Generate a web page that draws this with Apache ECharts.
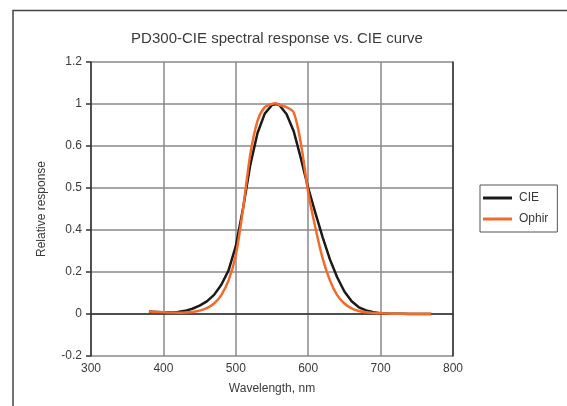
<!DOCTYPE html>
<html>
<head>
<meta charset="utf-8">
<script src="https://cdn.jsdelivr.net/npm/echarts@6/dist/echarts.min.js"></script>
<style>html,body{margin:0;padding:0;background:#fff;}#c{width:567px;height:406px;}</style>
</head>
<body>
<div id="c"></div>
<script>
var wavelengths = [380,390,400,410,420,430,440,450,460,470,480,490,500,510,520,530,540,550,555,560,570,580,590,600,610,620,630,640,650,660,670,680,690,700,710,720,730,740,750,760,770];
var cieValues = [0.012,0.010,0.008,0.008,0.010,0.015,0.025,0.040,0.060,0.091,0.139,0.208,0.323,0.503,0.710,0.862,0.954,0.995,1.000,0.995,0.952,0.870,0.740,0.600,0.480,0.365,0.260,0.175,0.107,0.061,0.032,0.017,0.008,0.004,0.002,0.001,0.001,0.000,0.000,0.000,0.000];
var ophirValues = [0.012,0.010,0.008,0.007,0.006,0.007,0.010,0.016,0.028,0.050,0.090,0.160,0.280,0.500,0.760,0.920,0.985,1.000,1.003,0.995,0.985,0.960,0.810,0.580,0.410,0.265,0.160,0.090,0.050,0.027,0.014,0.008,0.005,0.003,0.002,0.001,0.001,0.001,0.001,0.001,0.001];
var yTickLabels = ['-0.2','0','0.2','0.4','0.5','0.6','1','1.2'];
var seriesNames = ['CIE','Ophir'];
var titleText = 'PD300-CIE spectral response vs. CIE curve';

function pairs(xs, ys){ return xs.map(function(x,i){ return [x, ys[i]]; }); }

var chart = echarts.init(document.getElementById('c'));
var font = 'Liberation Sans, Arial, sans-serif';
chart.setOption({
  animation: false,
  backgroundColor: '#fff',
  textStyle: {fontFamily: font},
  title: {text: titleText, left: 272, top: 26, textAlign: 'center',
    textStyle: {fontSize: 15, fontWeight: 'normal', color: '#3a3a3a', fontFamily: font}},
  graphic: [{type: 'polyline', shape: {points: [[13,406],[13,10.5],[567,10.5]]},
    style: {stroke: '#444', lineWidth: 1.5, fill: null}}],
  legend: {orient: 'vertical', left: 480, top: 185, padding: [7, 9, 7, 3], itemGap: 9,
    borderColor: '#555', borderWidth: 1, icon: 'rect', itemWidth: 29, itemHeight: 3,
    textStyle: {fontSize: 12, color: '#3a3a3a', fontFamily: font, padding: [0,0,0,2]},
    data: seriesNames},
  grid: {left: 91, top: 62, right: 114, bottom: 50},
  xAxis: {type: 'value', min: 300, max: 800, interval: 100,
    name: 'Wavelength, nm', nameLocation: 'middle', nameGap: 27,
    nameTextStyle: {fontSize: 12, color: '#3a3a3a'},
    axisLine: {show: true, lineStyle: {color: '#333', width: 1.5}},
    axisTick: {show: false},
    axisLabel: {fontSize: 12, color: '#3a3a3a', margin: 7},
    splitLine: {show: true, lineStyle: {color: '#888', width: 1.5}}},
  yAxis: [{type: 'value', min: -0.2, max: 1.2, interval: 0.2,
    name: 'Relative response', nameLocation: 'middle', nameGap: 43,
    nameTextStyle: {fontSize: 12, color: '#3a3a3a'},
    axisLine: {show: true, lineStyle: {color: '#333', width: 1.5}},
    axisTick: {show: true, inside: false, length: 5, lineStyle: {color: '#333', width: 1.5}},
    axisLabel: {fontSize: 12, color: '#3a3a3a', margin: 9,
      formatter: function(v){ return yTickLabels[Math.round((v + 0.2) / 0.2)]; }},
    splitLine: {show: true, lineStyle: {color: '#888', width: 1.5}}},
    {type: 'value', min: -0.2, max: 1.2, interval: 0.2, position: 'right',
    axisLine: {show: true, lineStyle: {color: '#333', width: 1.5}},
    axisTick: {show: false}, axisLabel: {show: false}, splitLine: {show: false}}],
  series: [
    {name: seriesNames[0], type: 'line', data: pairs(wavelengths, cieValues), showSymbol: false,
      smooth: false, lineStyle: {color: '#1a1a1a', width: 2.5}, itemStyle: {color: '#1a1a1a'}},
    {name: seriesNames[1], type: 'line', data: pairs(wavelengths, ophirValues), showSymbol: false,
      smooth: 0.3, lineStyle: {color: '#f26b2a', width: 2.5}, itemStyle: {color: '#f26b2a'}}
  ]
});
</script>
</body>
</html>
